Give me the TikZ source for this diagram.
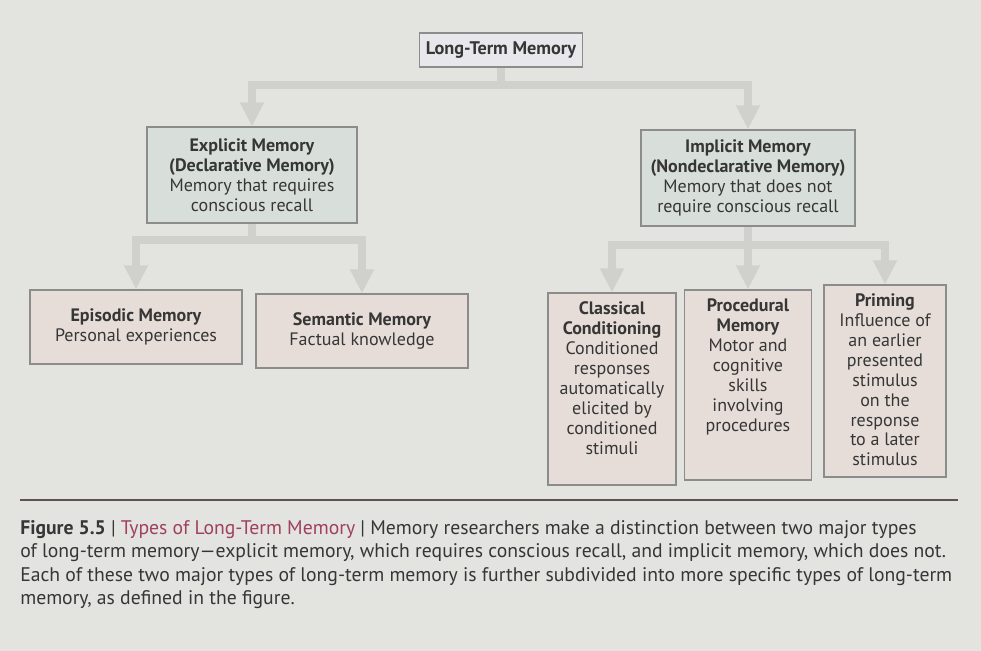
\documentclass[tikz,border=0pt]{standalone}
\usepackage{xcolor}
\usepackage{fontspec}
\setmainfont{PT Sans}
\usepackage{tikz}
\usetikzlibrary{arrows.meta,positioning}
\definecolor{pagebg}{HTML}{E3E3E0}
\definecolor{linkgray}{HTML}{D0D0CC}
\definecolor{boxborder}{HTML}{8C8C8A}
\definecolor{topfill}{HTML}{E7E7EC}
\definecolor{majorfill}{HTML}{D8DFDB}
\definecolor{minorfill}{HTML}{E6DDD8}
\definecolor{inktext}{HTML}{363636}
\definecolor{captionred}{HTML}{A0405F}
\definecolor{rulecolor}{HTML}{5E5352}

\begin{document}
\begin{tikzpicture}[
    box/.style={rectangle, draw=boxborder, line width=0.9pt, inner sep=0pt, align=center, text=inktext, font=\fontsize{12.8}{14.2}\selectfont},
    toptype/.style={box, fill=topfill, minimum width=4.075cm, minimum height=0.85cm},
    major/.style={box, fill=majorfill, minimum height=2.4cm},
    minor/.style={box, fill=minorfill, minimum width=5.3cm, minimum height=1.85cm},
    tallbox/.style={box, fill=minorfill, minimum height=4.8cm},
    inside/.style={anchor=north, inner sep=0pt, align=center, text=inktext, font=\fontsize{12.8}{14.2}\selectfont, yshift=-0.22cm},
    link/.style={draw=linkgray, line width=5pt, -{Triangle[width=16pt,length=17pt]}}
]

% Page
\fill[pagebg] (0,0) rectangle (24.525,-16.275);
\useasboundingbox (0,0) rectangle (24.525,-16.275);

% Top level
\node[toptype, font=\fontsize{13}{14.2}\selectfont\bfseries] (ltm) at (12.525,-1.25) {Long-Term Memory};

% Two major types
\node[major, minimum width=5.25cm] (explicit) at (6.3,-4.375) {\textbf{Explicit Memory}\\\textbf{(Declarative Memory)}\\Memory that requires\\conscious recall};
\node[major, minimum width=5.35cm] (implicit) at (18.7,-4.45) {\textbf{Implicit Memory}\\\textbf{(Nondeclarative Memory)}\\Memory that does not\\require conscious recall};

% Explicit kinds
\node[minor] (episodic) at (3.4,-8.175) {\textbf{Episodic Memory}\\Personal experiences};
\node[minor] (semantic) at (9.05,-8.275) {\textbf{Semantic Memory}\\Factual knowledge};

% Implicit kinds - text sits at the top of the tall boxes
\node[tallbox, minimum width=3.2cm] (classical) at (15.3,-9.725) {};
\node[tallbox, minimum width=3.175cm, minimum height=4.75cm] (procedural) at (18.7,-9.625) {};
\node[tallbox, minimum width=3.05cm] (priming) at (22.125,-9.525) {};
\node[inside] (classicaltext) at (classical.north) {\textbf{Classical}\\\textbf{Conditioning}\\Conditioned\\responses\\automatically\\elicited by\\conditioned\\stimuli};
\node[inside] (proceduraltext) at (procedural.north) {\textbf{Procedural}\\\textbf{Memory}\\Motor and\\cognitive\\skills\\involving\\procedures};
\node[inside] (primingtext) at (priming.north) {\textbf{Priming}\\Influence of\\an earlier\\presented\\stimulus\\on the\\response\\to a later\\stimulus};

% Branch points
\coordinate (ltmbar) at (12.525,-2.125);
\coordinate (explicitbar) at (6.3,-6.0);
\coordinate (implicitbar) at (18.7,-6.125);

% Connectors
\draw[link] (ltm.south) -- (ltmbar) -| (explicit.north);
\draw[link] (ltmbar) -| (implicit.north);
\draw[link] (explicit.south) -- (explicitbar) -| (episodic.north);
\draw[link] (explicitbar) -| (semantic.north);
\draw[link] (implicit.south) -- (implicitbar) -| (classical.north);
\draw[link] (implicitbar) -- (procedural.north);
\draw[link] (implicitbar) -| (priming.north);

% Rule and caption
\coordinate (ruleleft) at (0.5,-12.5);
\coordinate (ruleright) at (23.95,-12.5);
\draw[rulecolor, line width=1.8pt] (ruleleft) -- (ruleright);
\node[anchor=north west, inner sep=0pt, align=left, text=inktext, font=\fontsize{14}{16.7}\selectfont] (caption) at (0.5,-13.0) {\textbf{Figure 5.5} | \textcolor{captionred}{Types of Long-Term Memory} | Memory researchers make a distinction between two major types\\of long-term memory---explicit memory, which requires conscious recall, and implicit memory, which does not.\\Each of these two major types of long-term memory is further subdivided into more specific types of long-term\\memory, as defined in the figure.};

\end{tikzpicture}
\end{document}
